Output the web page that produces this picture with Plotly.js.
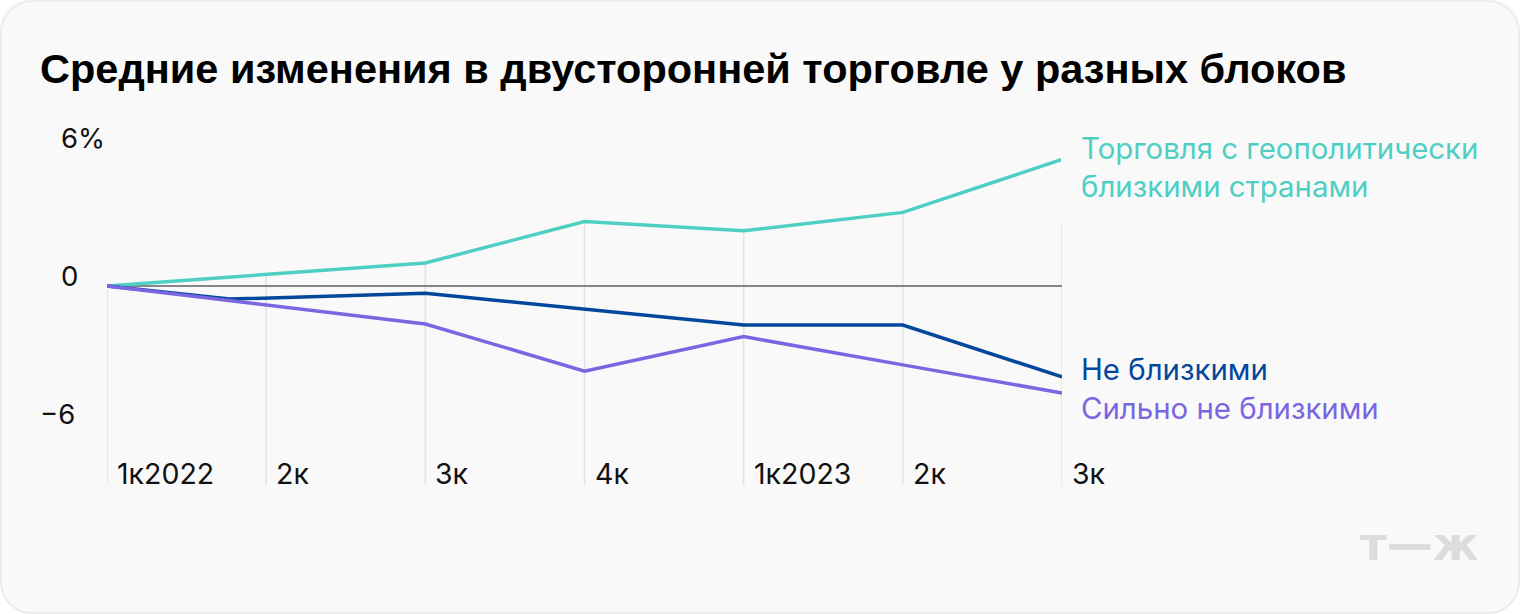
<!DOCTYPE html>
<html>
<head>
<meta charset="utf-8">
<script src="https://cdn.plot.ly/plotly-3.0.1.min.js"></script>
<style>
  html, body { margin: 0; padding: 0; background: #ffffff; }
  #chart {
    width: 1520px; height: 614px; box-sizing: border-box;
    background: #f9f9f9; border: 2px solid #ececec; border-radius: 32px;
    overflow: hidden;
  }
</style>
</head>
<body>
<div id="chart"></div>
<script>
// quarters on the x axis (0 = 1к2022)
var tickPos = [0, 1, 2, 3, 4, 5, 6];
var tickText = ["1к2022", "2к", "3к", "4к", "1к2023", "2к", "3к"];

var yTicks = [6, 0, -6];
var yTickText = ["6%", "0", "−6"];

// average change in bilateral trade, %
var closeX = [0, 2, 3, 4, 5, 6];
var closeY = [0, 1.0, 2.8, 2.4, 3.2, 5.5];

var notCloseX = [0, 0.77, 2, 3, 4, 5, 6];
var notCloseY = [0, -0.57, -0.32, -1.0, -1.7, -1.7, -3.95];

var farX = [0, 2, 3, 4, 5, 6];
var farY = [0, -1.65, -3.7, -2.2, -3.43, -4.65];

var names = ["Торговля с геополитически<br>близкими странами", "Не близкими", "Сильно не близкими"];
var colors = ["#4fcfc4", "#03479c", "#7b66e2"];

var yRange = [-8.65, 6.78];
var bg = "#f9f9f9";
var font = "Inter, Roboto, sans-serif";

var data = [
  // invisible line at the top, so the area above the teal line can hide the grid
  {x: tickPos, y: tickPos.map(function () { return yRange[1]; }), mode: "lines",
   line: {width: 0}, hoverinfo: "skip", showlegend: false},
  {x: closeX, y: closeY, mode: "lines", fill: "tonexty", fillcolor: bg,
   line: {color: colors[0], width: 3.5}, name: names[0]},
  {x: notCloseX, y: notCloseY, mode: "lines",
   line: {color: colors[1], width: 3.5}, name: names[1]},
  {x: farX, y: farY, mode: "lines",
   line: {color: colors[2], width: 3.5}, name: names[2]}
];

// vertical grid as shapes so the edge lines are drawn too
var shapes = tickPos.map(function (p) {
  return {type: "line", layer: "below", xref: "x", x0: p, x1: p, yref: "paper", y0: 0, y1: 1,
          line: {color: "#e2e2e2", width: 1.5}};
});

var annotations = [];

tickPos.forEach(function (p, i) {
  annotations.push({
    x: p, xref: "x", y: 0, yref: "paper", yanchor: "middle", yshift: 12,
    xanchor: "left", xshift: 8, text: tickText[i], showarrow: false,
    font: {family: font, size: 28.5, color: "#111111"}
  });
});

yTicks.forEach(function (v, i) {
  var neg = yTickText[i].charAt(0) === "−";
  annotations.push({
    x: 0, xref: "paper", y: v, yref: "y", yanchor: "middle", yshift: 10,
    xanchor: "left", xshift: neg ? -69 : -48, text: yTickText[i], showarrow: false,
    font: {family: font, size: 27.5, color: "#111111"}
  });
});

// series labels at the line ends
var ends = [
  {x: closeX[closeX.length - 1], y: closeY[closeY.length - 1], yshift: -8},
  {x: notCloseX[notCloseX.length - 1], y: notCloseY[notCloseY.length - 1], yshift: 7},
  {x: farX[farX.length - 1], y: farY[farY.length - 1], yshift: -16}
];
ends.forEach(function (e, i) {
  annotations.push({
    x: e.x, xref: "x", y: e.y, yref: "y", yanchor: "middle", yshift: e.yshift,
    xanchor: "left", xshift: i === 0 ? -1 : 19, text: names[i], showarrow: false,
    align: "left", bgcolor: i === 0 ? bg : "rgba(0,0,0,0)",
    borderpad: i === 0 ? 20 : 0, borderwidth: 0,
    font: {family: font, size: 29.4, color: colors[i]}
  });
});

// logo
annotations.push({
  x: 1, xref: "paper", xanchor: "left", xshift: 296, y: 0, yref: "paper", yanchor: "middle", yshift: -59,
  text: "<b>т—ж</b>", showarrow: false,
  font: {family: "'DejaVu Sans', sans-serif", size: 46, color: "#dcdcdc"}
});

var layout = {
  width: 1516, height: 610,
  paper_bgcolor: "rgba(0,0,0,0)", plot_bgcolor: "rgba(0,0,0,0)",
  margin: {l: 105, r: 456, t: 128, b: 127},
  showlegend: false,
  title: {
    text: "<b>Средние изменения в двусторонней торговле у разных блоков</b>",
    xref: "container", x: 38 / 1516, xanchor: "left",
    yref: "container", y: 1 - 66 / 610, yanchor: "middle",
    font: {family: "'Liberation Sans', Arial, sans-serif", size: 41.5, color: "#000000"}
  },
  xaxis: {
    range: [0, 6], showticklabels: false, showgrid: false,
    zeroline: false, showline: false, fixedrange: true
  },
  yaxis: {
    range: yRange, showticklabels: false, showgrid: false,
    zeroline: true, zerolinecolor: "#858585", zerolinewidth: 1.5,
    showline: false, fixedrange: true
  },
  shapes: shapes,
  annotations: annotations
};

Plotly.newPlot("chart", data, layout, {displayModeBar: false, staticPlot: true});
</script>
</body>
</html>
